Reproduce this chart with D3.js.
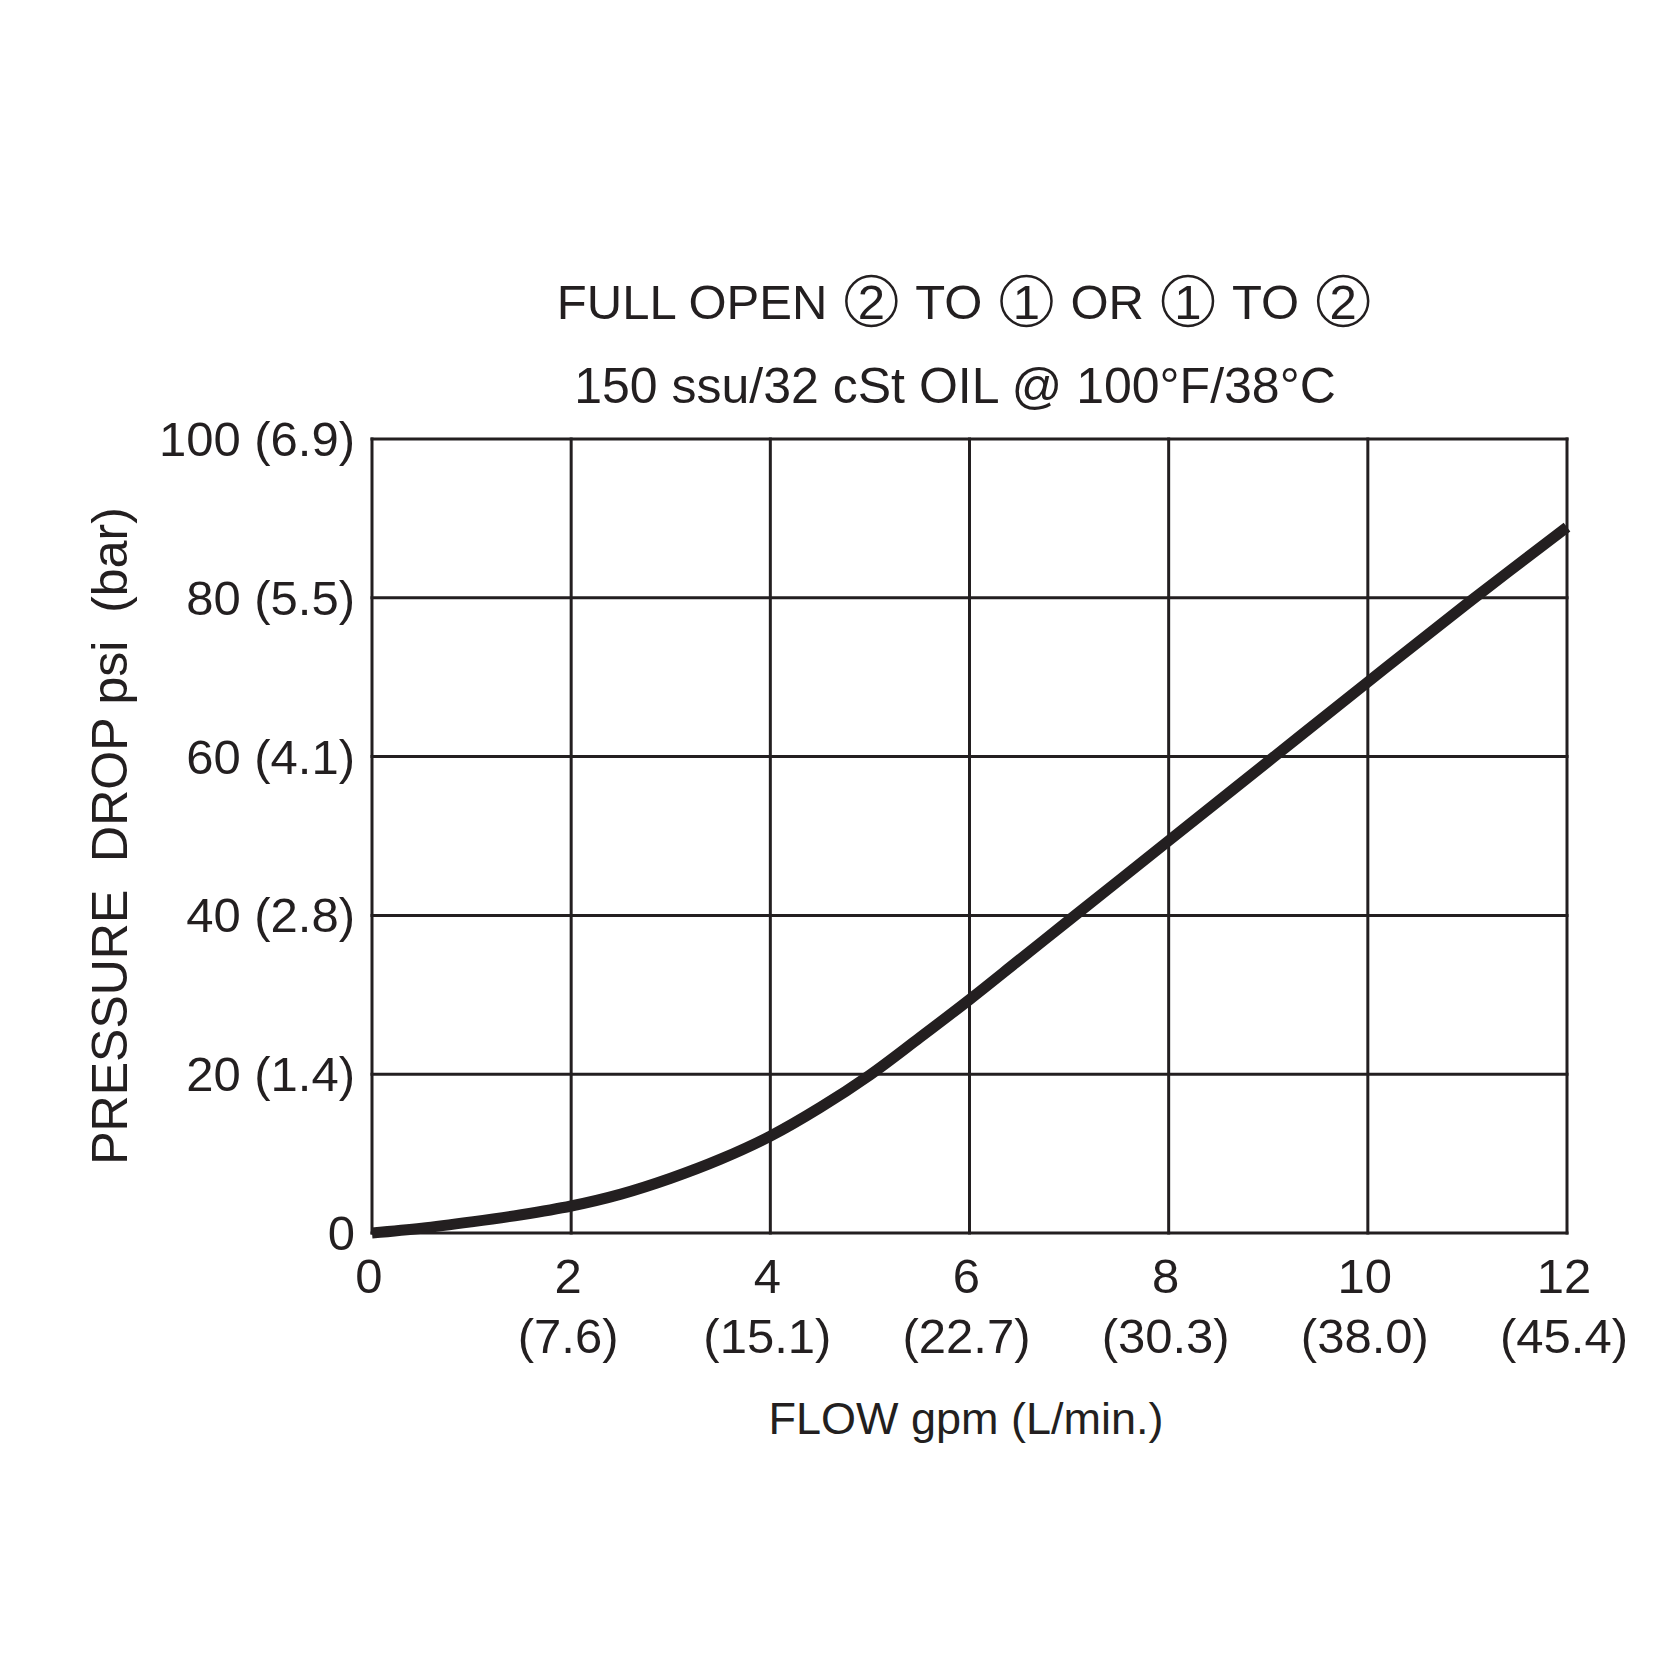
<!DOCTYPE html>
<html>
<head>
<meta charset="utf-8">
<script src="https://cdn.jsdelivr.net/npm/d3@7"></script>
<style>
  body { margin: 0; background: #fff; }
  text { font-family: "Liberation Sans", Arial, Helvetica, sans-serif; fill: #231f20; }
</style>
</head>
<body>
<div id="chart"></div>
<script>
// flow in gpm, pressure drop in psi
var flow = [0, 0.5, 1, 1.5, 2, 2.5, 3, 3.5, 4, 4.5, 5, 5.5, 6, 6.5, 7, 7.5, 8, 9, 10, 11, 12];
var psi  = [0, 0.6, 1.4, 2.3, 3.4, 4.9, 6.9, 9.3, 12.2, 15.8, 19.9, 24.6, 29.4, 34.4, 39.4, 44.4, 49.4, 59.4, 69.4, 79.3, 88.9];

var xTicks = [0, 2, 4, 6, 8, 10, 12];
var xTicksLpm = ["", "(7.6)", "(15.1)", "(22.7)", "(30.3)", "(38.0)", "(45.4)"];
var yTicks = [0, 20, 40, 60, 80, 100];
var yTicksBar = ["", "(1.4)", "(2.8)", "(4.1)", "(5.5)", "(6.9)"];

// title pieces, numbers are drawn as circled port numbers
var titleParts = ["FULL OPEN", 2, "TO", 1, "OR", 1, "TO", 2];

var ink = "#231f20";
var size = {w:1680, h:1680};
var plot = {left:372, right:1567, top:439, bottom:1233};

var svg = d3.select("#chart")
	.append("svg")
	.attr("width", size.w + "px")
	.attr("height", size.h + "px");

var x = d3.scaleLinear().domain([0, 12]).range([plot.left, plot.right]);
var y = d3.scaleLinear().domain([0, 100]).range([plot.bottom, plot.top]);

// grid
svg.selectAll(".vgrid")
	.data(xTicks)
	.enter().append("line")
	.attr("x1", function(d) { return x(d); })
	.attr("x2", function(d) { return x(d); })
	.attr("y1", plot.top)
	.attr("y2", plot.bottom)
	.attr("stroke", ink)
	.attr("stroke-width", 3)
	.attr("stroke-linecap", "square");

svg.selectAll(".hgrid")
	.data(yTicks)
	.enter().append("line")
	.attr("x1", plot.left)
	.attr("x2", plot.right)
	.attr("y1", function(d) { return y(d); })
	.attr("y2", function(d) { return y(d); })
	.attr("stroke", ink)
	.attr("stroke-width", 3)
	.attr("stroke-linecap", "square");

// y tick labels
svg.selectAll(".ylab")
	.data(yTicks)
	.enter().append("text")
	.attr("x", 355)
	.attr("y", function(d) { return y(d) + 17; })
	.attr("text-anchor", "end")
	.attr("font-size", "49px")
	.text(function(d, i) { return yTicksBar[i] ? d + " " + yTicksBar[i] : d; });

// x tick labels, two rows
svg.selectAll(".xlab")
	.data(xTicks)
	.enter().append("text")
	.attr("x", function(d) { return x(d) - 3; })
	.attr("y", 1293)
	.attr("text-anchor", "middle")
	.attr("font-size", "49px")
	.text(function(d) { return d; });

svg.selectAll(".xlab2")
	.data(xTicks)
	.enter().append("text")
	.attr("x", function(d) { return x(d) - 3; })
	.attr("y", 1353)
	.attr("text-anchor", "middle")
	.attr("font-size", "49px")
	.text(function(d, i) { return xTicksLpm[i]; });

// curve
var line = d3.line()
	.x(function(d) { return x(d[0]); })
	.y(function(d) { return y(d[1]); })
	.curve(d3.curveCatmullRom.alpha(0.5));

svg.append("path")
	.datum(flow.map(function(f, i) { return [f, psi[i]]; }))
	.attr("d", line)
	.attr("fill", "none")
	.attr("stroke", ink)
	.attr("stroke-width", 11)
	.attr("stroke-linecap", "butt");

// title: lay out pieces left to right, then center the group
var title = svg.append("g");
var cx = 0, gap = 18, circR = 26, titleBase = 319;
titleParts.forEach(function(p, i) {
	if (i > 0) cx += gap;
	if (typeof p === "number") {
		title.append("circle")
			.attr("cx", cx + circR)
			.attr("cy", titleBase - 18)
			.attr("r", circR - 1)
			.attr("fill", "none")
			.attr("stroke", ink)
			.attr("stroke-width", 2.5);
		title.append("text")
			.attr("x", cx + circR)
			.attr("y", titleBase)
			.attr("text-anchor", "middle")
			.attr("font-size", "49px")
			.text(p);
		cx += circR * 2;
	} else {
		var t = title.append("text")
			.attr("x", cx)
			.attr("y", titleBase)
			.attr("font-size", "49px")
			.text(p);
		cx += t.node().getComputedTextLength();
	}
});
title.attr("transform", "translate(" + (963 - cx / 2) + ",0)");

svg.append("text")
	.attr("x", 955)
	.attr("y", 403)
	.attr("text-anchor", "middle")
	.attr("font-size", "50px")
	.text("150 ssu/32 cSt OIL @ 100\u00b0F/38\u00b0C");

svg.append("text")
	.attr("x", 966)
	.attr("y", 1434)
	.attr("text-anchor", "middle")
	.attr("font-size", "45px")
	.text("FLOW gpm (L/min.)");

svg.append("text")
	.attr("transform", "translate(127,836) rotate(-90)")
	.attr("text-anchor", "middle")
	.attr("font-size", "50px")
	.attr("xml:space", "preserve")
	.style("white-space", "pre")
	.text("PRESSURE  DROP psi  (bar)");
</script>
</body>
</html>
